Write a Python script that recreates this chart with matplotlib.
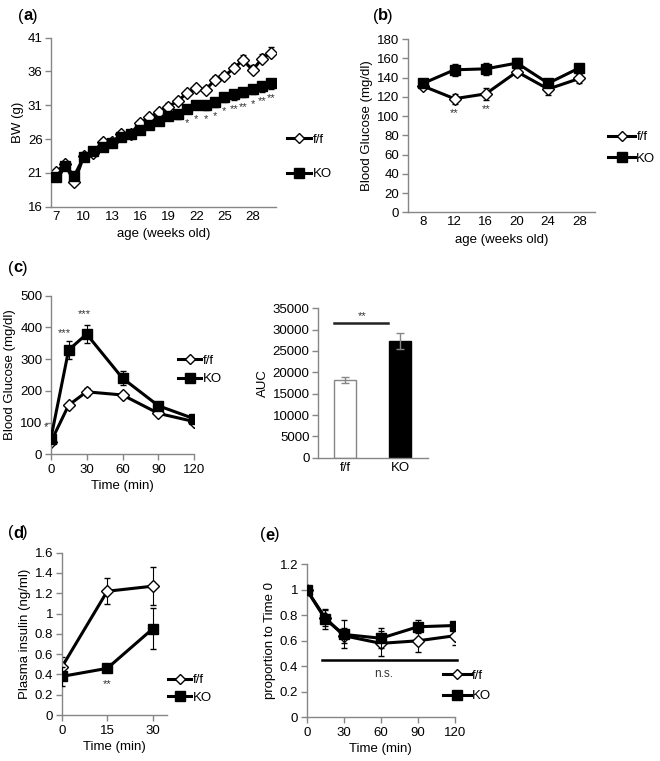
import numpy as np
import matplotlib
matplotlib.use('Agg')
import matplotlib.pyplot as plt
from matplotlib.lines import Line2D

plt.rcParams['font.family'] = ['Liberation Sans', 'DejaVu Sans']
plt.rcParams['font.size'] = 9.5

# (a) body weight
weeks = list(range(7, 31))
bw_ff = [21.1, 22.3, 19.6, 23.5, 24.0, 25.6, 25.5, 26.7, 26.8, 28.4, 29.2, 30.0,
         30.8, 31.6, 32.8, 33.5, 33.3, 34.8, 35.3, 36.5, 37.7, 36.2, 37.9, 38.8]
bw_ko = [20.4, 22.0, 20.6, 23.4, 24.2, 24.8, 25.4, 26.3, 26.7, 27.4, 28.1, 28.7,
         29.4, 29.7, 30.5, 31.1, 31.0, 31.5, 32.3, 32.6, 33.0, 33.4, 33.9, 34.3]
bw_ff_err = [0.3, 0.3, 0.3, 0.3, 0.3, 0.4, 0.4, 0.4, 0.4, 0.4, 0.5, 0.5,
             0.5, 0.5, 0.5, 0.5, 0.6, 0.6, 0.6, 0.6, 0.7, 0.8, 0.7, 0.8]
bw_ko_err = [0.3, 0.3, 0.4, 0.3, 0.4, 0.4, 0.4, 0.5, 0.5, 0.5, 0.6, 0.6,
             0.6, 0.7, 0.7, 0.7, 0.7, 0.7, 0.8, 0.8, 0.8, 0.8, 0.9, 0.9]
bw_sig = {21: '*', 22: '*', 23: '*', 24: '*', 25: '*', 26: '**', 27: '**', 28: '*', 29: '**', 30: '**'}

# (b) fasting blood glucose
bg_age = ['8', '12', '16', '20', '24', '28']
bg_ff = [131, 118, 123, 146, 128, 139]
bg_ko = [134, 148, 149, 155, 134, 150]
bg_ff_err = [3, 5, 6, 4, 6, 5]
bg_ko_err = [3, 6, 6, 5, 4, 4]
bg_sig = {1: '**', 2: '**'}

# (c) GTT
gtt_t = [0, 15, 30, 60, 90, 120]
gtt_ff = [38, 155, 197, 187, 129, 103]
gtt_ko = [47, 329, 379, 240, 153, 112]
gtt_ff_err = [4, 6, 12, 6, 5, 4]
gtt_ko_err = [6, 28, 28, 22, 8, 8]
auc_groups = ['f/f', 'KO']
auc_vals = [18200, 27300]
auc_err = [800, 1800]

# (d) insulin
ins_t = [0, 15, 30]
ins_ff = [0.47, 1.22, 1.27]
ins_ko = [0.38, 0.46, 0.85]
ins_ff_err = [0.10, 0.13, 0.19]
ins_ko_err = [0.09, 0.02, 0.20]

# (e) ITT
itt_t = [0, 15, 30, 60, 90, 120]
itt_ff = [1.0, 0.78, 0.64, 0.58, 0.60, 0.64]
itt_ko = [1.0, 0.77, 0.65, 0.62, 0.71, 0.72]
itt_ff_err = [0.0, 0.06, 0.06, 0.10, 0.09, 0.07]
itt_ko_err = [0.0, 0.08, 0.11, 0.08, 0.05, 0.03]

W, H = 660, 761
fig = plt.figure(figsize=(W / 100, H / 100), dpi=100)
grey = '#868686'
star = '#333333'


def px_axes(x0, y0, x1, y1):
    return fig.add_axes([x0 / W, 1 - y1 / H, (x1 - x0) / W, (y1 - y0) / H])


def style(ax, xticks=True):
    for s in ['top', 'right']:
        ax.spines[s].set_visible(False)
    for s in ['left', 'bottom']:
        ax.spines[s].set_color(grey)
        ax.spines[s].set_linewidth(1.0)
    ax.tick_params(axis='y', color=grey, length=4, width=1.0, pad=2)
    ax.tick_params(axis='x', color=grey, length=4 if xticks else 0, width=1.0, pad=3)


def series(ax, x, ff, ko, ff_err, ko_err, ms=7):
    ax.errorbar(x, ff, yerr=ff_err, color='black', lw=2.2, marker='D', ms=ms - 1.5,
                mfc='white', mec='black', mew=1.0, ecolor='black', elinewidth=0.8,
                capsize=2.5, zorder=2)
    ax.errorbar(x, ko, yerr=ko_err, color='black', lw=2.2, marker='s', ms=ms,
                mfc='black', mec='black', ecolor='black', elinewidth=0.8, capsize=2.5,
                zorder=3)


def legend(ax, x_px, ymid_px, spacing, hl):
    h = [Line2D([], [], color='black', lw=2.2, marker='D', ms=5.5, mfc='white', mec='black', mew=1.0),
         Line2D([], [], color='black', lw=2.2, marker='s', ms=7, mfc='black', mec='black')]
    ax.legend(h, ['f/f', 'KO'], loc='center left', frameon=False,
              bbox_to_anchor=(x_px / W, 1 - ymid_px / H), bbox_transform=fig.transFigure,
              borderaxespad=0, borderpad=0, handlelength=hl, handletextpad=0.1,
              labelspacing=spacing, fontsize=9.5)


def title(x_px, y_px, s):
    fig.text(x_px / W, 1 - y_px / H, '(', fontsize=12, va='center', ha='left')
    fig.text((x_px + 5) / W, 1 - y_px / H, s, fontsize=12, fontweight='bold', va='center', ha='left')
    fig.text((x_px + 14) / W, 1 - y_px / H, ')', fontsize=12, va='center', ha='left')


# ---- (a)
ax = px_axes(51, 37.7, 276, 206.7)
style(ax, xticks=False)
ax.errorbar(weeks, bw_ff, yerr=[np.zeros(len(weeks)), bw_ff_err], color='black', lw=2.2,
            marker='D', ms=6, mfc='white', mec='black', mew=1.0, ecolor='black',
            elinewidth=0.8, capsize=2, zorder=2)
ax.errorbar(weeks, bw_ko, yerr=[bw_ko_err, np.zeros(len(weeks))], color='black', lw=2.2,
            marker='s', ms=7.5, mfc='black', mec='black', ecolor='black', elinewidth=0.8,
            capsize=2, zorder=3)
for wk, s in bw_sig.items():
    i = weeks.index(wk)
    ax.text(wk, bw_ko[i] - bw_ko_err[i] - 1.4, s, fontsize=8, ha='center', va='center', color=star)
ax.set_xlim(6.5, 30.5)
ax.set_ylim(16, 41)
ax.set_yticks([16, 21, 26, 31, 36, 41])
ax.set_xticks(range(7, 30, 3))
ax.set_ylabel('BW (g)', labelpad=3)
ax.set_xlabel('age (weeks old)', labelpad=4)
legend(ax, 287, 157, 1.65, 1.85)
title(18, 16, 'a')

# ---- (b)
ax = px_axes(407.7, 39, 595, 212.3)
style(ax, xticks=False)
xb = np.arange(len(bg_age))
series(ax, xb, bg_ff, bg_ko, bg_ff_err, bg_ko_err, ms=7.5)
for i, s in bg_sig.items():
    ax.text(xb[i], bg_ff[i] - bg_ff_err[i] - 10, s, fontsize=8, ha='center', va='center', color=star)
ax.set_xlim(-0.5, len(bg_age) - 0.5)
ax.set_ylim(0, 180)
ax.set_yticks(range(0, 181, 20))
ax.set_xticks(xb)
ax.set_xticklabels(bg_age)
ax.set_ylabel('Blood Glucose (mg/dl)', labelpad=3)
ax.set_xlabel('age (weeks old)', labelpad=4)
legend(ax, 608, 148, 0.7, 2.05)
title(373, 16, 'b')

# ---- (c) GTT
ax = px_axes(50.7, 295.7, 194.3, 454.3)
style(ax)
series(ax, gtt_t, gtt_ff, gtt_ko, gtt_ff_err, gtt_ko_err, ms=7.5)
ax.text(-4, gtt_ko[0] + 40, '*', fontsize=8, ha='center', va='center', color=star, clip_on=False)
ax.text(11, gtt_ko[1] + 52, '***', fontsize=8, ha='center', va='center', color=star)
ax.text(28, gtt_ko[2] + 62, '***', fontsize=8, ha='center', va='center', color=star)
ax.set_xlim(0, 120)
ax.set_ylim(0, 500)
ax.set_xticks(range(0, 121, 30))
ax.set_yticks(range(0, 501, 100))
ax.set_ylabel('Blood Glucose (mg/dl)', labelpad=3)
ax.set_xlabel('Time (min)', labelpad=3)
legend(ax, 178, 370, 0.45, 1.75)
title(8, 268, 'c')

# ---- (c) AUC
ax = px_axes(318, 308.3, 427.7, 457.7)
style(ax, xticks=False)
xa = np.arange(len(auc_groups))
ax.bar(xa, auc_vals, width=0.4, color=['white', 'black'], edgecolor=[grey, 'black'], linewidth=1.0,
       yerr=auc_err, error_kw=dict(ecolor=grey, elinewidth=1.0, capsize=3), zorder=2)
ax.plot([-0.2, 0.77], [31500, 31500], color='#222222', lw=1.8)
ax.text(0.3, 33200, '**', fontsize=8, ha='center', va='center', color=star)
ax.set_xlim(-0.5, 1.5)
ax.set_ylim(0, 35000)
ax.set_yticks(range(0, 35001, 5000))
ax.set_xticks(xa)
ax.set_xticklabels(auc_groups)
ax.set_ylabel('AUC', labelpad=3)

# ---- (d)
ax = px_axes(61.7, 552.7, 166.7, 715)
style(ax)
series(ax, ins_t, ins_ff, ins_ko, ins_ff_err, ins_ko_err, ms=7.5)
ax.text(15, ins_ko[1] - 0.16, '**', fontsize=8, ha='center', va='center', color=star)
ax.set_xlim(0, 34.6)
ax.set_ylim(0, 1.6)
ax.set_xticks(ins_t)
ax.set_yticks(np.arange(0, 1.61, 0.2))
ax.set_yticklabels(['0', '0.2', '0.4', '0.6', '0.8', '1', '1.2', '1.4', '1.6'])
ax.set_ylabel('Plasma insulin (ng/ml)', labelpad=3)
ax.set_xlabel('Time (min)', labelpad=3)
legend(ax, 168, 689, 0.4, 1.75)
title(8, 533, 'd')

# ---- (e)
ax = px_axes(306.7, 564.3, 455, 717.3)
style(ax)
series(ax, itt_t, itt_ff, itt_ko, itt_ff_err, itt_ko_err, ms=7.5)
ax.plot([12, 122], [0.45, 0.45], color='black', lw=1.8, clip_on=False)
ax.text(62, 0.34, 'n.s.', fontsize=8.5, ha='center', va='center', color=star)
ax.set_xlim(0, 120)
ax.set_ylim(0, 1.2)
ax.set_xticks(range(0, 121, 30))
ax.set_yticks(np.arange(0, 1.21, 0.2))
ax.set_yticklabels(['0', '0.2', '0.4', '0.6', '0.8', '1', '1.2'])
ax.set_ylabel('proportion to Time 0', labelpad=3)
ax.set_xlabel('Time (min)', labelpad=3)
legend(ax, 443, 686, 0.62, 2.1)
title(260, 535, 'e')

fig.savefig('out.png', dpi=100)
